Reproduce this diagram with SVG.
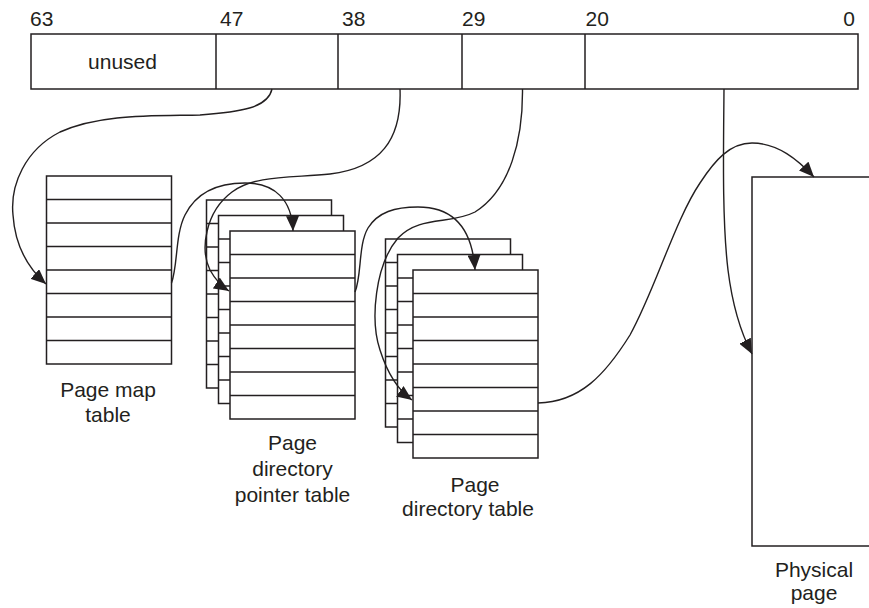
<svg xmlns="http://www.w3.org/2000/svg" xmlns:xlink="http://www.w3.org/1999/xlink" width="869" height="608" viewBox="0 0 869 608">
<style>
  .box { fill: #ffffff; stroke: #231f20; stroke-width: 1.5; }
  .ln { stroke: #231f20; stroke-width: 1.5; fill: none; }
  .con { stroke: #231f20; stroke-width: 1.4; fill: none; marker-end: url(#arrow); }
  .num { font-family: "Liberation Sans", Arial, Helvetica, sans-serif; font-size: 21px; fill: #231f20; }
  .lbl { font-family: "Liberation Sans", Arial, Helvetica, sans-serif; font-size: 21px; fill: #231f20; text-anchor: middle; }
</style>
<defs>
  <marker id="arrow" markerUnits="userSpaceOnUse" markerWidth="15" markerHeight="13" viewBox="0 0 15 13" refX="15" refY="6.5" orient="auto">
    <path d="M0,0 L15,6.5 L0,13 z" fill="#231f20"/>
  </marker>
  <g id="table">
    <rect class="box" x="0" y="0" width="125" height="188"/>
    <path class="ln" d="M0,23.5 H125 M0,47 H125 M0,70.5 H125 M0,94 H125 M0,117.5 H125 M0,141 H125 M0,164.5 H125"/>
  </g>
</defs>
<rect width="869" height="608" fill="#ffffff"/>

<g id="register">
  <rect class="box" x="31" y="34" width="827" height="55"/>
  <path class="ln" d="M216,34 V89 M338,34 V89 M462,34 V89 M585,34 V89"/>
  <text class="num" x="30" y="26">63</text>
  <text class="num" x="220" y="26">47</text>
  <text class="num" x="342" y="26">38</text>
  <text class="num" x="462" y="26">29</text>
  <text class="num" x="585.5" y="26">20</text>
  <text class="num" x="855" y="26" text-anchor="end">0</text>
  <text class="lbl" x="122.5" y="69">unused</text>
</g>

<g id="page-map-table">
  <use xlink:href="#table" x="46.5" y="176"/>
  <text class="lbl" x="108" y="397">Page map</text>
  <text class="lbl" x="108" y="421.5">table</text>
</g>

<g id="page-directory-pointer-table">
  <use xlink:href="#table" x="206.5" y="200"/>
  <use xlink:href="#table" x="218.5" y="215.5"/>
  <use xlink:href="#table" x="230" y="231"/>
  <text class="lbl" x="292.5" y="450">Page</text>
  <text class="lbl" x="292.5" y="476">directory</text>
  <text class="lbl" x="292.5" y="501.5">pointer table</text>
</g>

<g id="page-directory-table">
  <use xlink:href="#table" x="385.5" y="239"/>
  <use xlink:href="#table" x="397.5" y="254.5"/>
  <use xlink:href="#table" x="413" y="270"/>
  <text class="lbl" x="475" y="491.5">Page</text>
  <text class="lbl" x="468" y="515.5">directory table</text>
</g>

<g id="physical-page">
  <rect class="box" x="752" y="177" width="130" height="369"/>
  <text class="lbl" x="814" y="577">Physical</text>
  <text class="lbl" x="814" y="600">page</text>
</g>

<g id="connectors">
  <path class="con" d="M272,89 C268,108 240,112 200,115 C150,116 100,114 60,132 C25,150 10,185 13,215 C15,245 28,268 46,284"/>
  <path class="con" d="M400,89 C402,140 380,168 330,174 C290,178 255,175 232,192 C205,212 200,250 210,270 C215,279 221,286 229,291"/>
  <path class="con" d="M171.5,283 C178,265 175,235 185,215 C195,195 215,183 245,183 C275,183 292,200 293,231"/>
  <path class="con" d="M522.5,89 C523,140 510,190 475,212 C450,225 420,215 398,238 C375,265 370,320 380,350 C387,372 398,390 412,400"/>
  <path class="con" d="M355,292 C362,275 358,245 368,228 C378,212 395,207 418,207 C450,207 472,225 475,270"/>
  <path class="con" d="M538,403 C580,402 605,375 630,335 C655,290 675,220 700,183 C715,160 730,143 752,143 C778,143 798,160 814,177"/>
  <path class="con" d="M724,89 C723.5,150 722,220 728,270 C733,310 742,335 752,354"/>
</g>
</svg>
